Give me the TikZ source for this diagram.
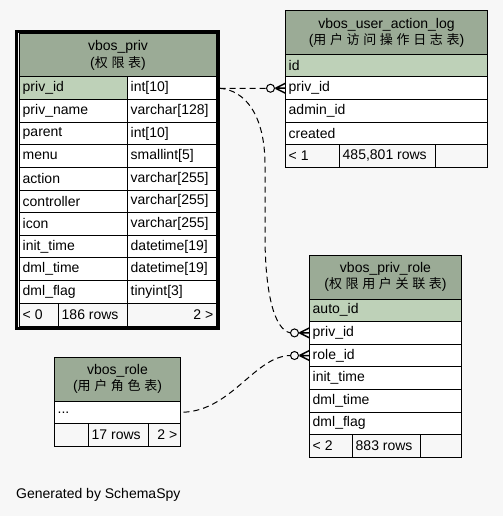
\documentclass[tikz,border=0pt]{standalone}
\usepackage{fontspec}
\setmainfont{Liberation Sans}
\newfontfamily\cjk[LetterSpace=28]{Noto Sans CJK SC}
\definecolor{bgc}{HTML}{F7F7F7}
\definecolor{hdrc}{HTML}{9BAB96}
\definecolor{keyc}{HTML}{BED1B8}
\tikzset{
  cell/.style={draw=black, line width=1pt, anchor=north west, inner sep=0pt, outer sep=0pt},
  hdr/.style={cell, fill=hdrc, align=center, font=\fontsize{14}{16.5}\selectfont},
  keyc/.style={cell, fill=keyc},
  plain/.style={cell, fill=white},
  foot/.style={cell, fill=bgc},
  lbl/.style={anchor=west, inner sep=0pt, font=\fontsize{14}{16}\selectfont},
  rlbl/.style={anchor=east, inner sep=0pt, font=\fontsize{14}{16}\selectfont},
  rel/.style={draw=black, line width=1pt, dash pattern=on 6pt off 4pt},
  crowline/.style={draw=black, line width=1.5pt},
  ring/.style={draw=black, line width=1pt, fill=bgc},
}
\newcommand\cellbox[7]{\node[#6, minimum width=#4pt, minimum height=#5pt] (#1) at (#2,#3) {};
  \node[lbl] (#1-t) at ([xshift=3pt]#1.west) {#7};}
\newcommand\cellboxr[7]{\node[#6, minimum width=#4pt, minimum height=#5pt] (#1) at (#2,#3) {};
  \node[rlbl] (#1-t) at ([xshift=-3pt]#1.east) {#7};}
\newcommand\emptycell[6]{\node[#6, minimum width=#4pt, minimum height=#5pt] (#1) at (#2,#3) {};}
\newcommand\crowend[1]{%
  \draw[crowline] ([xshift=-10pt]#1) -- ([yshift=5pt]#1) ([xshift=-10pt]#1) -- (#1) ([xshift=-10pt]#1) -- ([yshift=-5pt]#1);
  \draw[ring] ([xshift=-15pt]#1) circle (4pt);}
\newcommand\cjt[1]{{\fontsize{13}{16.5}\selectfont\cjk #1}}
\begin{document}
\begin{tikzpicture}[x=1pt,y=-1pt]
\fill[bgc] (0,0) rectangle (503,516);
\useasboundingbox (0,0) rectangle (503,516);

% ---------- vbos_priv ----------
\draw[line width=3pt] (16.5,31.5) rectangle (218.5,328.5);
\node[hdr, minimum width=197pt, minimum height=44pt] (pv-h) at (19.5,33.5) {vbos\_priv\\(\cjt{权限表})};
\cellbox{pv-k}{19.5}{77}{108}{22.6}{keyc}{priv\_id}
\cellbox{pv-kt}{127.5}{77}{89}{22.6}{plain}{int[10]}
\cellbox{pv-r2}{19.5}{99.6}{108}{22.6}{plain}{priv\_name}
\cellbox{pv-r2t}{127.5}{99.6}{89}{22.6}{plain}{varchar[128]}
\cellbox{pv-r3}{19.5}{122.2}{108}{22.6}{plain}{parent}
\cellbox{pv-r3t}{127.5}{122.2}{89}{22.6}{plain}{int[10]}
\cellbox{pv-r4}{19.5}{144.8}{108}{22.6}{plain}{menu}
\cellbox{pv-r4t}{127.5}{144.8}{89}{22.6}{plain}{smallint[5]}
\cellbox{pv-r5}{19.5}{167.4}{108}{22.6}{plain}{action}
\cellbox{pv-r5t}{127.5}{167.4}{89}{22.6}{plain}{varchar[255]}
\cellbox{pv-r6}{19.5}{190}{108}{22.6}{plain}{controller}
\cellbox{pv-r6t}{127.5}{190}{89}{22.6}{plain}{varchar[255]}
\cellbox{pv-r7}{19.5}{212.6}{108}{22.6}{plain}{icon}
\cellbox{pv-r7t}{127.5}{212.6}{89}{22.6}{plain}{varchar[255]}
\cellbox{pv-r8}{19.5}{235.2}{108}{22.6}{plain}{init\_time}
\cellbox{pv-r8t}{127.5}{235.2}{89}{22.6}{plain}{datetime[19]}
\cellbox{pv-r9}{19.5}{257.8}{108}{22.6}{plain}{dml\_time}
\cellbox{pv-r9t}{127.5}{257.8}{89}{22.6}{plain}{datetime[19]}
\cellbox{pv-r10}{19.5}{280.4}{108}{22.6}{plain}{dml\_flag}
\cellbox{pv-r10t}{127.5}{280.4}{89}{22.6}{plain}{tinyint[3]}
\cellbox{pv-f1}{19.5}{303}{39}{23}{foot}{< 0}
\cellbox{pv-f2}{58.5}{303}{69}{23}{foot}{186 rows}
\cellboxr{pv-f3}{127.5}{303}{89}{23}{foot}{2 >}

% ---------- vbos_user_action_log ----------
\node[hdr, minimum width=202pt, minimum height=43.5pt] (ual-h) at (285.5,11) {vbos\_user\_action\_log\\(\cjt{用户访问操作日志表})};
\cellbox{ual-id}{285.5}{54.5}{202}{22.5}{keyc}{id}
\cellbox{ual-privid}{285.5}{77}{202}{22.5}{plain}{priv\_id}
\cellbox{ual-admin}{285.5}{99.5}{202}{22.5}{plain}{admin\_id}
\cellbox{ual-created}{285.5}{122}{202}{22.5}{plain}{created}
\cellbox{ual-f1}{285.5}{144.5}{54}{23}{foot}{< 1}
\cellbox{ual-f2}{339.5}{144.5}{96}{23}{foot}{485,801 rows}
\emptycell{ual-f3}{435.5}{144.5}{52}{23}{foot}

% ---------- vbos_priv_role ----------
\node[hdr, minimum width=152pt, minimum height=44pt] (pr-h) at (309.5,255) {vbos\_priv\_role\\(\cjt{权限用户关联表})};
\cellbox{pr-auto}{309.5}{299}{152}{22.6}{keyc}{auto\_id}
\cellbox{pr-privid}{309.5}{321.6}{152}{22.6}{plain}{priv\_id}
\cellbox{pr-roleid}{309.5}{344.2}{152}{22.6}{plain}{role\_id}
\cellbox{pr-init}{309.5}{366.8}{152}{22.6}{plain}{init\_time}
\cellbox{pr-dmlt}{309.5}{389.4}{152}{22.6}{plain}{dml\_time}
\cellbox{pr-dmlf}{309.5}{412}{152}{22.6}{plain}{dml\_flag}
\cellbox{pr-f1}{309.5}{434.6}{43}{22.8}{foot}{< 2}
\cellbox{pr-f2}{352.5}{434.6}{68}{22.8}{foot}{883 rows}
\emptycell{pr-f3}{420.5}{434.6}{41}{22.8}{foot}

% ---------- vbos_role ----------
\node[hdr, minimum width=126pt, minimum height=44pt] (ro-h) at (54.5,357) {vbos\_role\\(\cjt{用户角色表})};
\cellbox{ro-dots}{54.5}{401}{126}{22.5}{plain}{...}
\emptycell{ro-f1}{54.5}{423.5}{34}{23}{foot}
\cellbox{ro-f2}{88.5}{423.5}{60}{23}{foot}{17 rows}
\cellboxr{ro-f3}{148.5}{423.5}{32}{23}{foot}{2 >}

% ---------- footer text ----------
\node[lbl] (gen) at (16,495) {Generated by SchemaSpy};

% ---------- relationships ----------
\draw[rel] ([xshift=3pt]pv-kt.east) -- ([xshift=-19pt]ual-privid.west);
\draw[rel] ([xshift=3pt]pv-kt.east) .. controls (245,90) and (265,115) .. (265,165) -- (265,235) .. controls (265,292) and (274,330) .. ([xshift=-19pt]pr-privid.west);
\draw[rel] ([xshift=3pt]ro-dots.east) .. controls (232,410) and (255,356) .. ([xshift=-19pt]pr-roleid.west);
\crowend{ual-privid.west}
\crowend{pr-privid.west}
\crowend{pr-roleid.west}
\end{tikzpicture}
\end{document}
